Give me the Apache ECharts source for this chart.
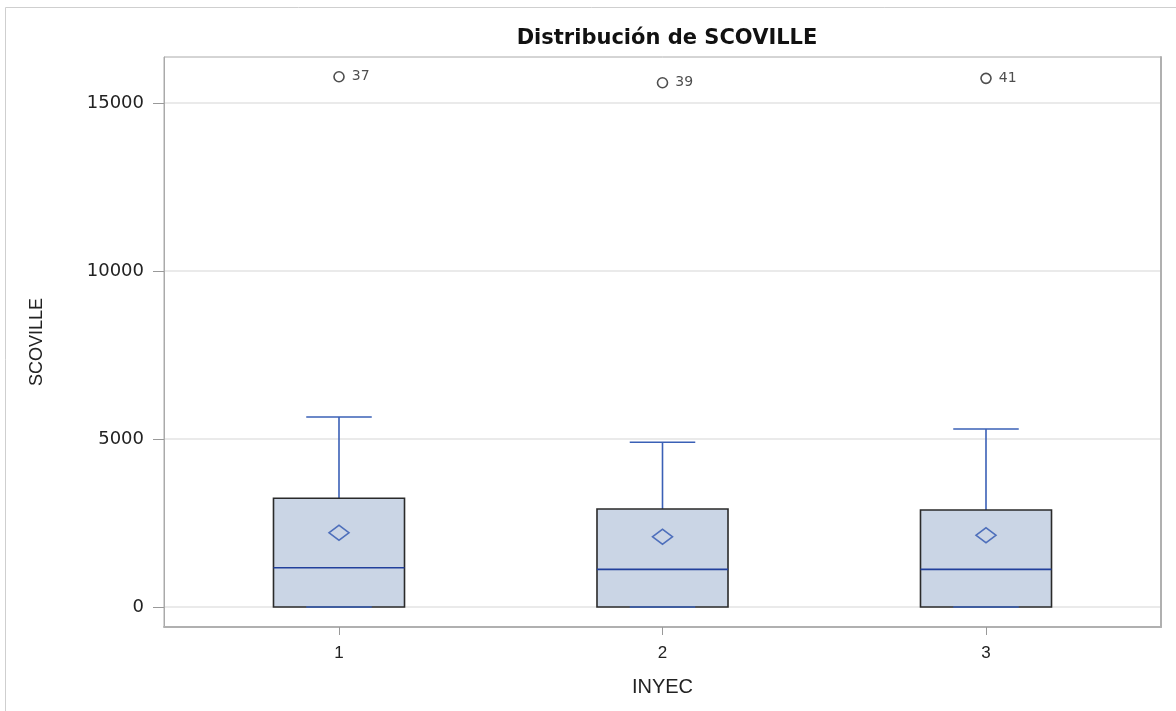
<!DOCTYPE html>
<html>
<head>
<meta charset="utf-8">
<script src="https://cdn.jsdelivr.net/npm/echarts@6/dist/echarts.min.js"></script>
<style>
html,body{margin:0;padding:0;background:#fff;}
#chart{width:1176px;height:711px;}
</style>
</head>
<body>
<div id="chart"></div>
<script>
// ---- data ----
var categories = ['1', '2', '3'];
var whiskerLow = [0, 0, 0];
var q1 = [0, 0, 0];
var median = [1170, 1121, 1121];
var q3 = [3235, 2917, 2887];
var whiskerHigh = [5655, 4902, 5298];
var means = [2212, 2093, 2133];
var outlierCat = [0, 1, 2];
var outlierValues = [15782, 15603, 15734];
var outlierIds = ['37', '39', '41'];
var yTicks = [0, 5000, 10000, 15000];
var yMin = -595, yMax = 16370;

var boxData = categories.map(function (c, i) {
  return [i, whiskerLow[i], q1[i], median[i], q3[i], whiskerHigh[i]];
});
var meanData = categories.map(function (c, i) { return [i, means[i]]; });
var outlierData = outlierCat.map(function (c, i) { return [c, outlierValues[i], outlierIds[i]]; });

var boxFill = '#CAD5E5', boxEdge = '#2a2a2a', whiskerColor = '#3A60B6', medianColor = '#22409C';

function renderBox(params, api) {
  var idx = api.value(0);
  var cx = api.coord([idx, 0])[0];
  var yLo = api.coord([idx, api.value(1)])[1];
  var yQ1 = api.coord([idx, api.value(2)])[1];
  var yMed = api.coord([idx, api.value(3)])[1];
  var yQ3 = api.coord([idx, api.value(4)])[1];
  var yHi = api.coord([idx, api.value(5)])[1];
  var bw = api.size([1, 0])[0] * 0.405;
  var cw = bw / 2;
  var lineStyle = {stroke: whiskerColor, lineWidth: 1.6};
  return {
    type: 'group',
    children: [
      {type: 'line', shape: {x1: cx, y1: yQ3, x2: cx, y2: yHi}, style: lineStyle},
      {type: 'line', shape: {x1: cx - cw / 2, y1: yHi, x2: cx + cw / 2, y2: yHi}, style: lineStyle},
      {type: 'rect', shape: {x: cx - bw / 2, y: yQ3, width: bw, height: yQ1 - yQ3},
        style: {fill: boxFill, stroke: boxEdge, lineWidth: 1.6}},
      {type: 'line', shape: {x1: cx - bw / 2, y1: yMed, x2: cx + bw / 2, y2: yMed},
        style: {stroke: medianColor, lineWidth: 1.6}},
      {type: 'line', shape: {x1: cx, y1: yQ1, x2: cx, y2: yLo}, style: lineStyle},
      {type: 'line', shape: {x1: cx - cw / 2, y1: yLo, x2: cx + cw / 2, y2: yLo}, style: lineStyle}
    ]
  };
}

var chart = echarts.init(document.getElementById('chart'), null, {renderer: 'canvas'});
var option = {
  backgroundColor: '#fff',
  animation: false,
  title: {
    text: 'Distribución de SCOVILLE',
    left: 662, textAlign: 'center', top: 23,
    textStyle: {fontFamily: 'DejaVu Sans', fontWeight: 'bold', fontSize: 21, color: '#111'}
  },
  graphic: [
    {type: 'rect', shape: {x: 5.5, y: 7.5, width: 1300, height: 900},
      style: {fill: null, stroke: '#cfcfcf', lineWidth: 1}, silent: true, z: -10}
  ],
  grid: [
    {left: 164, right: 15, top: 57, bottom: 84, show: true, borderColor: '#aaaaaa', borderWidth: 1, backgroundColor: 'transparent'},
    {left: 177.25, right: 28.25, top: 57, bottom: 84}
  ],
  xAxis: [
    {gridIndex: 0, type: 'value', min: 0, max: 1, axisLabel: {show: false}, axisTick: {show: false},
      splitLine: {show: false}, axisLine: {show: true, onZero: false, lineStyle: {color: '#b0b0b0', width: 2}}},
    {gridIndex: 1, type: 'category', data: categories, boundaryGap: true,
      axisLine: {show: false, onZero: false},
      axisTick: {show: true, alignWithLabel: true, length: 8, lineStyle: {color: '#999'}},
      axisLabel: {margin: 18, fontFamily: 'Liberation Sans', fontSize: 17, color: '#222'},
      name: 'INYEC', nameLocation: 'middle', nameGap: 50,
      nameTextStyle: {fontFamily: 'Liberation Sans', fontSize: 20, color: '#222'}}
  ],
  yAxis: [
    {gridIndex: 0, type: 'value', min: yMin, max: yMax,
      axisLine: {show: true, onZero: false, lineStyle: {color: '#aaaaaa', width: 1}},
      axisTick: {show: true, customValues: yTicks, length: 11, lineStyle: {color: '#999'}},
      axisLabel: {customValues: yTicks, margin: 20, fontFamily: 'DejaVu Sans', fontSize: 18, color: '#222',
        formatter: function (v) { return String(v); }},
      splitLine: {show: true, lineStyle: {color: '#e3e3e3', width: 1.5}},
      name: 'SCOVILLE', nameLocation: 'middle', nameGap: 118, nameRotate: 90,
      nameTextStyle: {fontFamily: 'Liberation Sans', fontSize: 18, color: '#222'}},
    {gridIndex: 0, type: 'value', min: yMin, max: yMax, position: 'right',
      axisLine: {show: true, onZero: false, lineStyle: {color: '#b0b0b0', width: 2}},
      axisTick: {show: false}, axisLabel: {show: false}, splitLine: {show: false}},
    {gridIndex: 1, type: 'value', min: yMin, max: yMax, show: false}
  ],
  series: [
    {type: 'custom', xAxisIndex: 1, yAxisIndex: 2, renderItem: renderBox,
      encode: {x: 0, y: [1, 2, 3, 4, 5]}, data: boxData, z: 2},
    {type: 'scatter', xAxisIndex: 1, yAxisIndex: 2, data: meanData, symbol: 'diamond',
      symbolSize: [20, 15], itemStyle: {color: boxFill, borderColor: '#2E55B0', borderWidth: 1.6}, z: 3},
    {type: 'scatter', xAxisIndex: 1, yAxisIndex: 2, data: outlierData, symbol: 'circle',
      symbolSize: 10, itemStyle: {color: '#fff', borderColor: '#222', borderWidth: 1.6}, z: 3,
      label: {show: true, position: 'right', distance: 7,
        formatter: function (p) { return p.value[2]; },
        fontFamily: 'DejaVu Sans', fontSize: 14, color: '#222'}}
  ]
};
chart.setOption(option);
</script>
</body>
</html>
